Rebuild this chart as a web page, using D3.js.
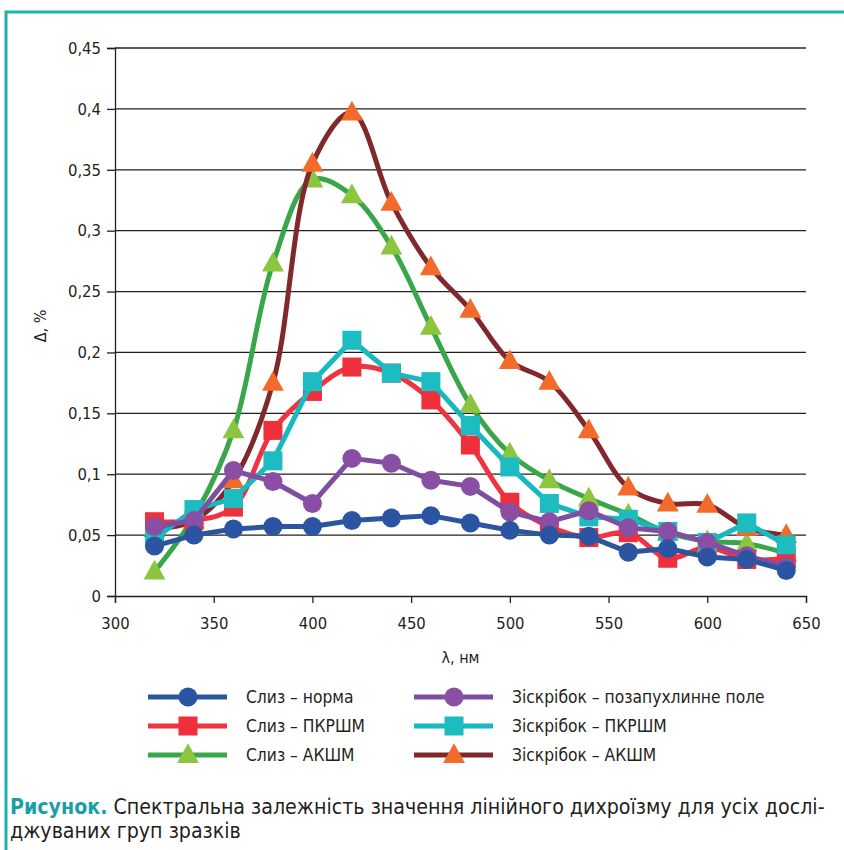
<!DOCTYPE html>
<html>
<head>
<meta charset="utf-8">
<script src="https://cdn.jsdelivr.net/npm/d3@7"></script>
<style>
  body { margin: 0; background: #fff; }
  svg { display: block; }
  text { font-family: "DejaVu Sans Condensed", "Roboto", sans-serif; fill: #231f20; }
</style>
</head>
<body>
<svg id="chart" width="844" height="850"></svg>
<script>
var wavelengths = [320, 340, 360, 380, 400, 420, 440, 460, 480, 500, 520, 540, 560, 580, 600, 620, 640];

var slyzNorma   = [0.041, 0.050, 0.055, 0.057, 0.057, 0.062, 0.064, 0.066, 0.060, 0.054, 0.050, 0.049, 0.036, 0.039, 0.032, 0.030, 0.021];
var slyzPkrshm  = [0.061, 0.062, 0.073, 0.136, 0.168, 0.188, 0.183, 0.161, 0.124, 0.077, 0.057, 0.048, 0.052, 0.031, 0.040, 0.030, 0.031];
var slyzAkshm   = [0.020, 0.065, 0.136, 0.273, 0.342, 0.329, 0.287, 0.221, 0.157, 0.117, 0.095, 0.080, 0.067, 0.052, 0.045, 0.043, 0.035];
var zisPole     = [0.057, 0.062, 0.103, 0.094, 0.076, 0.113, 0.109, 0.095, 0.090, 0.069, 0.061, 0.070, 0.056, 0.053, 0.044, 0.033, 0.024];
var zisPkrshm   = [0.047, 0.071, 0.080, 0.111, 0.176, 0.210, 0.183, 0.176, 0.140, 0.106, 0.076, 0.065, 0.063, 0.053, 0.044, 0.060, 0.042];
var zisAkshm    = [0.055, 0.062, 0.095, 0.175, 0.355, 0.397, 0.323, 0.270, 0.235, 0.193, 0.176, 0.136, 0.089, 0.076, 0.075, 0.056, 0.050];

var yTicks = [0, 0.05, 0.1, 0.15, 0.2, 0.25, 0.3, 0.35, 0.4, 0.45];
var xTicks = [300, 350, 400, 450, 500, 550, 600, 650];

var series = [
  {name: "Слиз – норма", values: slyzNorma, line: "#2a56a0", mark: "#2b55a3", shape: "circle", smooth: false},
  {name: "Слиз – ПКРШМ", values: slyzPkrshm, line: "#ef3340", mark: "#ee2f3c", shape: "square", smooth: true},
  {name: "Слиз – АКШМ", values: slyzAkshm, line: "#3aa64a", mark: "#8cc63f", shape: "triangle", smooth: true},
  {name: "Зіскрібок – позапухлинне поле", values: zisPole, line: "#7f4ea0", mark: "#8a4fa5", shape: "circle", smooth: false},
  {name: "Зіскрібок – ПКРШМ", values: zisPkrshm, line: "#17b8bf", mark: "#1cbcc0", shape: "square", smooth: false},
  {name: "Зіскрібок – АКШМ", values: zisAkshm, line: "#80282c", mark: "#f26b2b", shape: "triangle", smooth: true}
];
// drawing order, bottom to top
var drawOrder = [2, 5, 1, 4, 3, 0];

var margin = {top: 48, left: 115, right: 38, bottom: 254};
var svg = d3.select("#chart");
var width = 844 - margin.left - margin.right,
    height = 850 - margin.top - margin.bottom;

// frame
svg.append("path")
  .attr("d", "M6,850 V12 H844")
  .style("fill", "none")
  .style("stroke", "#1eb2ae")
  .style("stroke-width", 3);

var x = d3.scaleLinear().domain([300, 650]).range([0, width]);
var y = d3.scaleLinear().domain([0, 0.45]).range([height, 0]);

var g = svg.append("g")
  .attr("transform", "translate(" + margin.left + "," + margin.top + ")");

var fmt = function(d){ return String(d).replace(".", ","); };

// gridlines + y axis
g.append("g")
  .attr("class", "yaxis")
  .call(d3.axisLeft(y).tickValues(yTicks).tickFormat(fmt).tickSize(8).tickPadding(6))
  .call(function(a){
    a.select(".domain").style("stroke", "#231f20").style("stroke-width", 1.3);
    a.selectAll(".tick line").style("stroke", "#231f20").style("stroke-width", 1.3);
    a.selectAll(".tick text").style("font-size", "16.5px").style("font-family", null);
  });

g.append("g").selectAll("line")
  .data(yTicks.filter(function(d){ return d > 0; }))
  .enter().append("line")
  .attr("x1", 0).attr("x2", width)
  .attr("y1", function(d){ return y(d); })
  .attr("y2", function(d){ return y(d); })
  .style("stroke", "#231f20")
  .style("stroke-width", 1.3);

g.append("g")
  .attr("transform", "translate(0," + height + ")")
  .call(d3.axisBottom(x).tickValues(xTicks).tickFormat(d3.format("d")).tickSize(7).tickPadding(14))
  .call(function(a){
    a.select(".domain").style("stroke", "#231f20").style("stroke-width", 1.3);
    a.selectAll(".tick line").style("stroke", "#231f20").style("stroke-width", 1.3);
    a.selectAll(".tick text").style("font-size", "16.5px").style("font-family", null);
  });

// axis titles
svg.append("text")
  .attr("transform", "translate(46," + (margin.top + height / 2 + 4) + ") rotate(-90)")
  .attr("text-anchor", "middle")
  .style("font-size", "16px")
  .text("Δ, %");

svg.append("text")
  .attr("x", margin.left + x(475))
  .attr("y", 663)
  .attr("text-anchor", "middle")
  .style("font-size", "16px")
  .text("λ, нм");

function drawMarker(sel, shape, color, cx, cy, size) {
  if (shape === "circle") {
    sel.append("circle").attr("cx", cx).attr("cy", cy).attr("r", size / 2).style("fill", color);
  } else if (shape === "square") {
    sel.append("rect").attr("x", cx - size / 2).attr("y", cy - size / 2)
      .attr("width", size).attr("height", size).style("fill", color);
  } else {
    var h = size, w = size * 1.15;
    sel.append("path")
      .attr("d", "M" + cx + "," + (cy - h * 0.62) + " L" + (cx + w / 2) + "," + (cy + h * 0.42) +
                 " L" + (cx - w / 2) + "," + (cy + h * 0.42) + " Z")
      .style("fill", color);
  }
}

drawOrder.forEach(function(i){
  var s = series[i];
  var pts = wavelengths.map(function(w, j){ return [w, s.values[j]]; });
  var line = d3.line()
    .x(function(d){ return x(d[0]); })
    .y(function(d){ return y(d[1]); })
    .curve(s.smooth ? d3.curveCatmullRom.alpha(0.5) : d3.curveLinear);
  var sg = g.append("g");
  sg.append("path")
    .attr("d", line(pts))
    .style("fill", "none")
    .style("stroke", s.line)
    .style("stroke-width", 5)
    .style("stroke-linejoin", "round");
  pts.forEach(function(p){
    drawMarker(sg, s.shape, s.mark, x(p[0]), y(p[1]), 19);
  });
});

// legend
var legendCols = [148, 414];
var legendRows = [697, 726, 755];
var legendIdx = [[0, 1, 2], [3, 4, 5]];
legendIdx.forEach(function(col, c){
  col.forEach(function(i, r){
    var s = series[i];
    var lx = legendCols[c], ly = legendRows[r];
    var lg = svg.append("g");
    lg.append("line")
      .attr("x1", lx).attr("x2", lx + 79)
      .attr("y1", ly).attr("y2", ly)
      .style("stroke", s.line).style("stroke-width", 5);
    drawMarker(lg, s.shape, s.mark, lx + 40, ly, 19);
    lg.append("text")
      .attr("x", lx + 98).attr("y", ly + 6)
      .style("font-size", "17.3px")
      .text(s.name);
  });
});

// caption
var cap = svg.append("text").attr("x", 10).attr("y", 814).style("font-size", "21.2px");
cap.append("tspan").style("font-weight", "bold").style("fill", "#1a9ea8").text("Рисунок.");
cap.append("tspan").text(" Спектральна залежність значення лінійного дихроїзму для усіх дослі-");
svg.append("text").attr("x", 10).attr("y", 838).style("font-size", "21.2px")
  .text("джуваних груп зразків");
</script>
</body>
</html>
